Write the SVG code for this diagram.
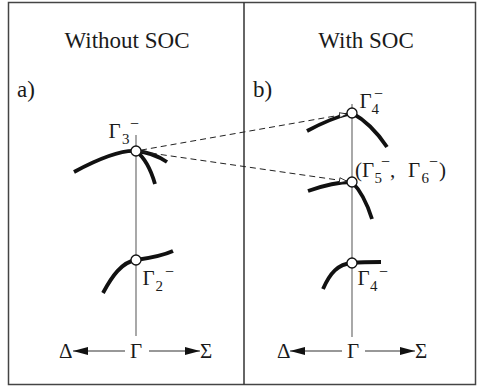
<svg xmlns="http://www.w3.org/2000/svg" width="478" height="387" viewBox="0 0 478 387">
<style>
text{font-family:"Liberation Serif","Times New Roman",serif;fill:#1a1a1a}
.t{font-size:23px}
.g{font-size:21px}
.s{font-size:15px}
.m{font-size:16px}
.band{fill:none;stroke:#111;stroke-width:3.8;stroke-linecap:butt}
.node{fill:#fff;stroke:#111;stroke-width:1.3}
.kline{stroke:#7a7a7a;stroke-width:1.3;fill:none}
.dash{stroke:#222;stroke-width:1;fill:none;stroke-dasharray:6 4;marker-end:url(#open)}
.axis{stroke:#333;stroke-width:1.1;fill:none;marker-end:url(#solid)}
</style>
<defs>
<marker id="solid" markerUnits="userSpaceOnUse" markerWidth="16" markerHeight="10" refX="15" refY="4" orient="auto">
<path d="M0,0 L15,4 L0,8 z" fill="#111"/>
</marker>
<marker id="open" markerUnits="userSpaceOnUse" markerWidth="10" markerHeight="8" refX="8" refY="3" orient="auto">
<path d="M0.5,0.5 L8,3 L0.5,5.5 z" fill="#fff" stroke="#111" stroke-width="0.8"/>
</marker>
</defs>
<rect x="8.5" y="2.5" width="467" height="382" fill="#fff" stroke="#444" stroke-width="1.5"/>
<line x1="244" y1="2.5" x2="244" y2="384.5" stroke="#333" stroke-width="1.5"/>
<text class="t" x="127" y="48" text-anchor="middle">Without SOC</text>
<text class="t" x="366" y="48" text-anchor="middle">With SOC</text>
<text class="t" x="17" y="97">a)</text>
<text class="t" x="253" y="97">b)</text>
<g id="kline-a"><line class="kline" x1="136" y1="135" x2="136" y2="336"/></g>
<g id="kline-b"><line class="kline" x1="352" y1="104" x2="352" y2="337"/></g>
<g id="gamma3">
<path class="band" d="M74,172 C100,158 120,150 136,151 C148,152 158,156 167,162"/>
<path class="band" d="M136,151 C145,158 151,170 155,184"/>
<circle class="node" cx="136" cy="151" r="5"/>
<text class="g" x="108.5" y="138">Γ</text><text class="s" x="122" y="144">3</text><text class="m" x="130" y="129">−</text>
</g>
<g id="gamma2">
<path class="band" d="M103,293 C112,276 122,262 136,260 C150,258 162,256 173,251"/>
<circle class="node" cx="136" cy="260" r="5"/>
<text class="g" x="142.5" y="285">Γ</text><text class="s" x="155.5" y="291">2</text><text class="m" x="165" y="276.5">−</text>
</g>
<g id="gamma4-top">
<path class="band" d="M307,131 C320,124 335,117 352,113"/>
<path class="band" d="M352,113 C365,120 377,132 387,147"/>
<circle class="node" cx="352" cy="113" r="5"/>
<text class="g" x="359.5" y="107.5">Γ</text><text class="s" x="371.5" y="113.5">4</text><text class="m" x="374" y="99">−</text>
</g>
<g id="gamma56">
<path class="band" d="M308,191 C322,186 338,182 352,182"/>
<path class="band" d="M352,182 C360,190 367,203 372,219"/>
<circle class="node" cx="352" cy="182" r="5"/>
<text class="g" x="355" y="177">(</text><text class="g" x="362" y="177">Γ</text><text class="s" x="374.5" y="182.5">5</text><text class="m" x="381" y="166.5">−</text><text class="g" x="390" y="177">,</text><text class="g" x="408" y="177">Γ</text><text class="s" x="421.5" y="182.5">6</text><text class="m" x="429" y="166.5">−</text><text class="g" x="439" y="177">)</text>
</g>
<g id="gamma4-bottom">
<path class="band" d="M323,289 C330,273 338,264 352,263 C362,262 372,262 381,262"/>
<circle class="node" cx="352" cy="263" r="5"/>
<text class="g" x="357.5" y="285">Γ</text><text class="s" x="370" y="291">4</text><text class="m" x="379" y="277">−</text>
</g>
<g id="axis-a">
<text class="g" x="59" y="358">Δ</text>
<text class="g" x="136" y="358" text-anchor="middle">Γ</text>
<text class="g" x="200" y="358">Σ</text>
</g>
<g id="axis-b">
<text class="g" x="277" y="358">Δ</text>
<text class="g" x="353" y="358" text-anchor="middle">Γ</text>
<text class="g" x="415" y="358">Σ</text>
</g>
<g id="connectors">
<line class="dash" x1="141" y1="150.1" x2="347" y2="113.9"/>
<line class="dash" x1="141" y1="151.7" x2="347" y2="181.3"/>
<line class="axis" x1="125" y1="351" x2="73" y2="351"/>
<line class="axis" x1="149" y1="351" x2="200" y2="351"/>
<line class="axis" x1="342" y1="351" x2="290" y2="351"/>
<line class="axis" x1="365" y1="351" x2="415" y2="351"/>
</g>
</svg>
